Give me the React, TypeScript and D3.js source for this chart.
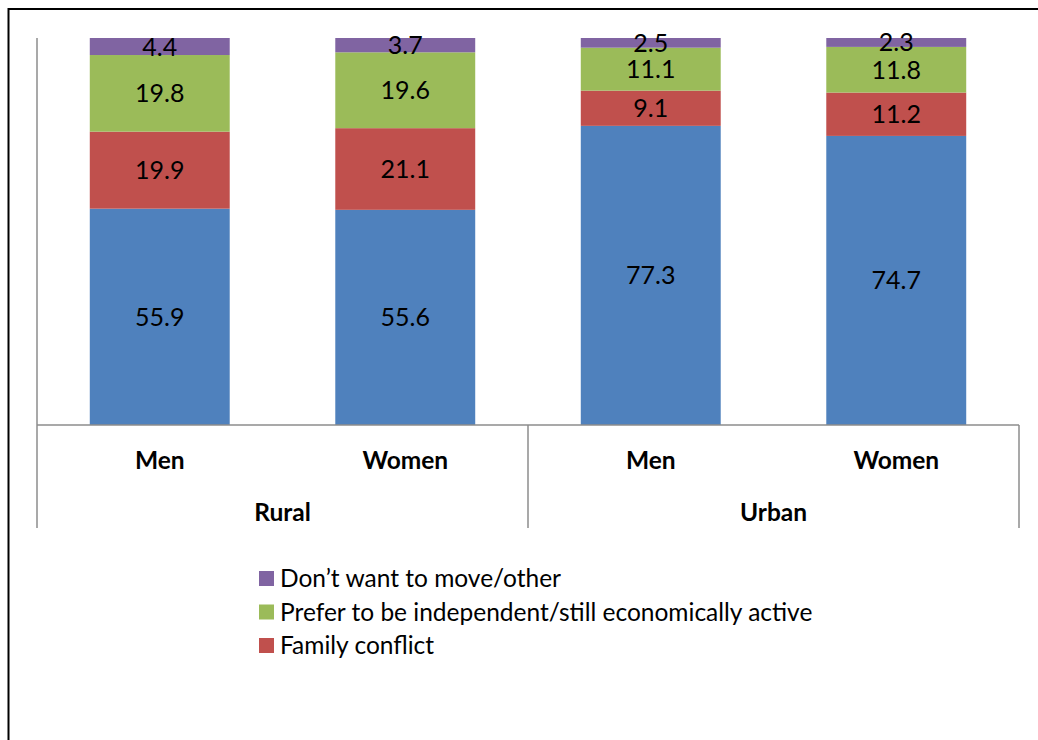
import React from "react";
import * as d3 from "d3";

const genders = ["Men", "Women", "Men", "Women"];
const groupNames = ["Rural", "Urban"];
const seriesNames = [
  "Other reason",
  "Family conflict",
  "Prefer to be independent/still economically active",
  "Don\u2019t want to move/other",
];
const seriesColors = ["#4F81BD", "#C0504D", "#9BBB59", "#8064A2"];
const otherReason = [55.9, 55.6, 77.3, 74.7];
const familyConflict = [19.9, 21.1, 9.1, 11.2];
const preferIndependent = [19.8, 19.6, 11.1, 11.8];
const dontWantToMove = [4.4, 3.7, 2.5, 2.3];
const legendOrder = [3, 2, 1];

const FONT = "Lato, 'Open Sans', sans-serif";

export default function App() {
  const W = 1038;
  const H = 740;
  const left = 37;
  const right = 1019;
  const base = 425;
  const top = 38;
  const axisBottom = 528;

  const values = [otherReason, familyConflict, preferIndependent, dontWantToMove];
  const keys = genders.map((_, i) => i);
  const x = d3
    .scaleBand<number>()
    .domain(keys)
    .range([left, right])
    .paddingInner(0.43)
    .paddingOuter(0.215);
  const y = d3.scaleLinear().domain([0, 100]).range([base, top]);

  const tableRows = keys.map((i) => {
    const o: any = { idx: i };
    values.forEach((v, s) => (o["s" + s] = v[i]));
    return o;
  });
  const stack = d3.stack<any>().keys(values.map((_, s) => "s" + s));
  const stacked = stack(tableRows);

  const groupX = d3.scaleBand<string>().domain(groupNames).range([left, right]);

  return (
    <div style={{ position: "fixed", left: 0, top: 0 }}>
      <svg width={W} height={H} style={{ display: "block" }}>
        <rect x={0} y={0} width={W} height={H} fill="#fff" />
        {/* outer frame */}
        <line x1={8.5} y1={8} x2={8.5} y2={H} stroke="#000" strokeWidth={2} />
        <line x1={8} y1={9} x2={W} y2={9} stroke="#000" strokeWidth={2} />

        {/* bars */}
        {stacked.map((layer, s) => (
          <g key={s}>
            {layer.map((d, i) => (
              <rect
                key={i}
                x={x(i)}
                y={y(d[1])}
                width={x.bandwidth()}
                height={y(d[0]) - y(d[1])}
                fill={seriesColors[s]}
              />
            ))}
          </g>
        ))}
        {/* labels */}
        {stacked.map((layer, s) => (
          <g key={"l" + s}>
            {layer.map((d, i) => (
              <text
                key={i}
                x={(x(i) as number) + x.bandwidth() / 2}
                y={(y(d[0]) + y(d[1])) / 2}
                dy="0.36em"
                textAnchor="middle"
                fontFamily={FONT}
                fontSize={25}
                fill="#000"
              >
                {values[s][i].toFixed(1)}
              </text>
            ))}
          </g>
        ))}

        {/* axes */}
        <line x1={left} y1={top} x2={left} y2={base} stroke="#8C8C8C" strokeWidth={1.5} />
        <line x1={left} y1={base} x2={right} y2={base} stroke="#8C8C8C" strokeWidth={1.5} />
        {[left, groupX("Urban") as number, right].map((xx, i) => (
          <line key={i} x1={xx} y1={base} x2={xx} y2={axisBottom} stroke="#8C8C8C" strokeWidth={1.5} />
        ))}
        {keys.map((i) => (
          <text
            key={i}
            x={(x(i) as number) + x.bandwidth() / 2}
            y={460}
            dy="0.36em"
            textAnchor="middle"
            fontFamily={FONT}
            fontWeight="bold"
            fontSize={24.5}
          >
            {genders[i]}
          </text>
        ))}
        {groupNames.map((g) => (
          <text
            key={g}
            x={(groupX(g) as number) + groupX.bandwidth() / 2}
            y={512}
            dy="0.36em"
            textAnchor="middle"
            fontFamily={FONT}
            fontWeight="bold"
            fontSize={24.5}
          >
            {g}
          </text>
        ))}

        {/* legend */}
        {legendOrder.map((s, k) => (
          <g key={s} transform={`translate(259, ${578.5 + k * 33.5})`}>
            <rect x={0} y={-7.5} width={15} height={15} fill={seriesColors[s]} />
            <text x={21} y={0} dy="0.36em" fontFamily={FONT} fontSize={24.5}>
              {seriesNames[s]}
            </text>
          </g>
        ))}
      </svg>
    </div>
  );
}
